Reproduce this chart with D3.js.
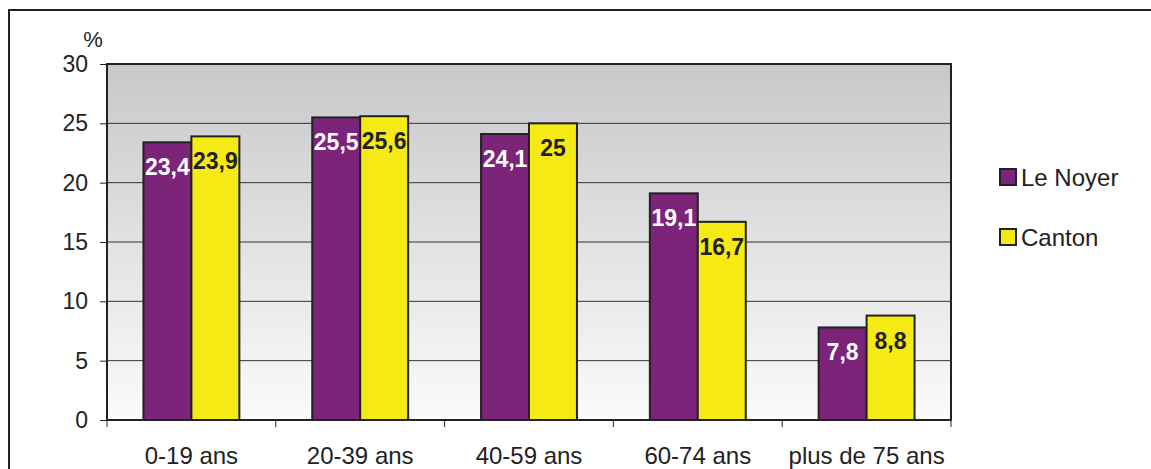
<!DOCTYPE html>
<html><head><meta charset="utf-8">
<script src="https://cdn.jsdelivr.net/npm/d3@7"></script>
<style>body{margin:0;background:#fff}svg{display:block;font-family:"Liberation Sans",Arial,sans-serif}</style>
</head><body>
<script>
const categories = ["0-19 ans","20-39 ans","40-59 ans","60-74 ans","plus de 75 ans"];
const leNoyer = [23.4,25.5,24.1,19.1,7.8];
const canton = [23.9,25.6,25,16.7,8.8];
const seriesNames = ["Le Noyer","Canton"];
const yTicks = [0,5,10,15,20,25,30];
const colors = ["#7b2479","#f5ea14"];
const labelColors = ["#ffffff","#222222"];
const fmt = v => String(v).replace(".", ",");

const W=1151,H=469;
const svg=d3.select("body").append("svg").attr("width",W).attr("height",H);
// outer frame
svg.append("rect").attr("x",9).attr("y",10).attr("width",W+20).attr("height",H+20)
  .attr("fill","none").attr("stroke","#222").attr("stroke-width",2);

const L=107,R=951,T=64,B=420;
const x=d3.scaleBand().domain(categories).range([L,R]);
const y=d3.scaleLinear().domain([0,30]).range([B,T]);
const inner=d3.scaleBand().domain([0,1]).range([0,x.bandwidth()]).paddingInner(0).paddingOuter(0.76);

const defs=svg.append("defs");
const g=defs.append("linearGradient").attr("id","bg").attr("x1",0).attr("y1",0).attr("x2",0).attr("y2",1);
g.append("stop").attr("offset","0%").attr("stop-color","#c7c8ca");
g.append("stop").attr("offset","100%").attr("stop-color","#fbfbfb");
svg.append("rect").attr("x",L).attr("y",T).attr("width",R-L).attr("height",B-T).attr("fill","url(#bg)");

// gridlines
svg.append("g").selectAll("line").data(yTicks.filter(d=>d>0&&d<30)).join("line")
  .attr("x1",L).attr("x2",R).attr("y1",d=>y(d)).attr("y2",d=>y(d))
  .attr("stroke","#333").attr("stroke-width",1);

// bars
const data=categories.map((c,i)=>({c,vals:[leNoyer[i],canton[i]]}));
const grp=svg.append("g").selectAll("g").data(data).join("g").attr("transform",d=>`translate(${x(d.c)},0)`);
grp.selectAll("rect").data(d=>d.vals.map((v,k)=>({v,k}))).join("rect")
  .attr("x",d=>inner(d.k)).attr("width",inner.bandwidth())
  .attr("y",d=>y(d.v)).attr("height",d=>B-y(d.v))
  .attr("fill",d=>colors[d.k]).attr("stroke","#222").attr("stroke-width",2);
grp.selectAll("text").data(d=>d.vals.map((v,k)=>({v,k}))).join("text")
  .attr("x",d=>inner(d.k)+inner.bandwidth()/2).attr("y",d=>y(d.v)+33)
  .attr("text-anchor","middle").attr("font-size",23).attr("font-weight","bold")
  .attr("fill",d=>labelColors[d.k]).text(d=>fmt(d.v));

// plot border
svg.append("rect").attr("x",L).attr("y",T).attr("width",R-L).attr("height",B-T)
  .attr("fill","none").attr("stroke","#222").attr("stroke-width",2);

// y axis
const ya=svg.append("g").attr("transform",`translate(${L},0)`)
  .call(d3.axisLeft(y).tickValues(yTicks).tickSize(7).tickPadding(12).tickFormat(d3.format("d")));
ya.select(".domain").remove();
ya.selectAll("line").attr("stroke","#222");
ya.selectAll("text").attr("font-size",23).attr("fill","#222").attr("font-family","Liberation Sans, Arial, sans-serif");

// x axis
const xa=svg.append("g").attr("transform",`translate(0,${B})`)
  .call(d3.axisBottom(x).tickSize(0).tickPadding(27));
xa.select(".domain").remove();
xa.selectAll("text").attr("font-size",24).attr("fill","#222").attr("font-family","Liberation Sans, Arial, sans-serif");
const bounds=[L].concat(categories.map(c=>x(c)+x.bandwidth()));
svg.append("g").selectAll("line").data(bounds).join("line")
  .attr("x1",d=>d).attr("x2",d=>d).attr("y1",B).attr("y2",B+7).attr("stroke","#222");

svg.append("text").attr("x",93).attr("y",47).attr("text-anchor","middle").attr("font-size",22).attr("fill","#222").text("%");

// legend
const lg=svg.append("g").selectAll("g").data(seriesNames).join("g")
  .attr("transform",(d,i)=>`translate(1000,${169+i*60})`);
lg.append("rect").attr("width",16).attr("height",16).attr("fill",(d,i)=>colors[i]).attr("stroke","#222").attr("stroke-width",2);
lg.append("text").attr("x",21).attr("y",17).attr("font-size",24).attr("fill","#222").text(d=>d);
</script>
</body></html>
